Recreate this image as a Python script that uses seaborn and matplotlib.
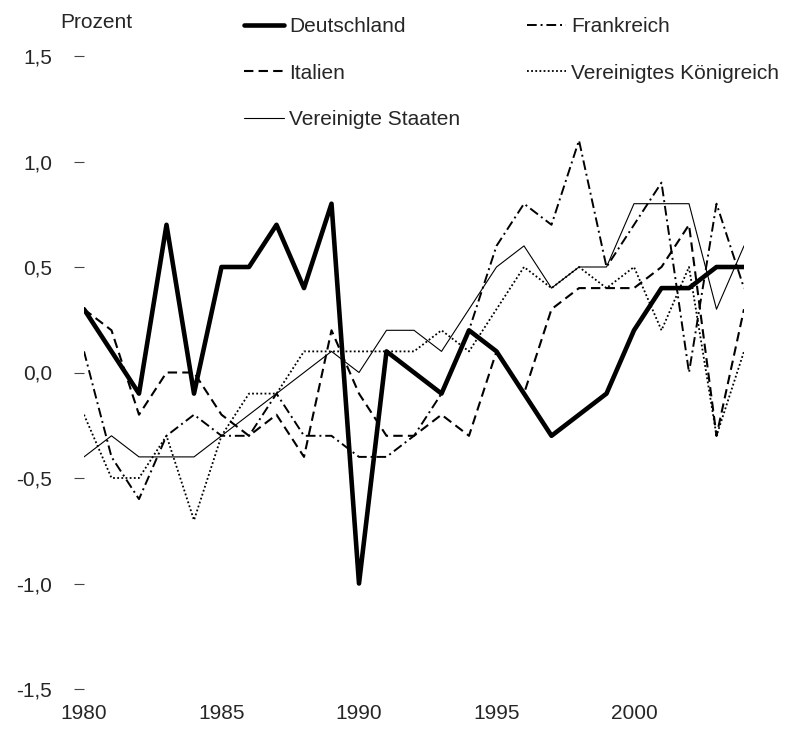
import matplotlib
matplotlib.use("Agg")
import matplotlib.pyplot as plt
import seaborn as sns
import pandas as pd

# ==========================================
# DATEN

jahre = list(range(1980, 2005))

deutschland = [0.3, 0.1, -0.1, 0.7, -0.1, 0.5, 0.5, 0.7, 0.4, 0.8,
               -1.0, 0.1, 0.0, -0.1, 0.2, 0.1, -0.1, -0.3, -0.2, -0.1,
               0.2, 0.4, 0.4, 0.5, 0.5]
frankreich = [0.1, -0.4, -0.6, -0.3, -0.2, -0.3, -0.3, -0.1, -0.3, -0.3,
              -0.4, -0.4, -0.3, -0.1, 0.2, 0.6, 0.8, 0.7, 1.1, 0.5,
              0.7, 0.9, 0.0, 0.8, 0.4]
italien = [0.3, 0.2, -0.2, 0.0, 0.0, -0.2, -0.3, -0.2, -0.4, 0.2,
           -0.1, -0.3, -0.3, -0.2, -0.3, 0.1, -0.1, 0.3, 0.4, 0.4,
           0.4, 0.5, 0.7, -0.3, 0.3]
vereinigtes_koenigreich = [-0.2, -0.5, -0.5, -0.3, -0.7, -0.3, -0.1, -0.1, 0.1, 0.1,
                           0.1, 0.1, 0.1, 0.2, 0.1, 0.3, 0.5, 0.4, 0.5, 0.4,
                           0.5, 0.2, 0.5, -0.3, 0.1]
vereinigte_staaten = [-0.4, -0.3, -0.4, -0.4, -0.4, -0.3, -0.2, -0.1, 0.0, 0.1,
                      0.0, 0.2, 0.2, 0.1, 0.3, 0.5, 0.6, 0.4, 0.5, 0.5,
                      0.8, 0.8, 0.8, 0.3, 0.6]

y_ticks = [-1.5, -1.0, -0.5, 0.0, 0.5, 1.0, 1.5]
y_labels = ["-1,5", "-1,0", "-0,5", "0,0", "0,5", "1,0", "1,5"]
x_ticks = [1980, 1985, 1990, 1995, 2000]

df = pd.DataFrame({
    "Jahr": jahre,
    "Deutschland": deutschland,
    "Frankreich": frankreich,
    "Italien": italien,
    "Vereinigtes Königreich": vereinigtes_koenigreich,
    "Vereinigte Staaten": vereinigte_staaten,
})

# Linienstile je Land (Reihenfolge = Legende, spaltenweise)
stile = {
    "Deutschland": dict(lw=3.3, dashes=None),
    "Italien": dict(lw=1.5, dashes=(4.5, 2.5)),
    "Vereinigte Staaten": dict(lw=0.8, dashes=None),
    "Frankreich": dict(lw=1.4, dashes=(5, 2, 1, 2)),
    "Vereinigtes Königreich": dict(lw=1.3, dashes=(1, 1.3)),
}

# ==========================================
# CHART

sns.set_style("white")
plt.rcParams["font.family"] = ["Liberation Sans", "DejaVu Sans"]

fig = plt.figure(figsize=(8.02, 7.31), dpi=100)
ax = fig.add_axes([84 / 802, 1 - 689 / 731, 660 / 802, 633 / 731])

for land, st in stile.items():
    line = sns.lineplot(
        data=df,
        x="Jahr",
        y=land,
        ax=ax,
        color="black",
        lw=st["lw"],
        label=land,
    ).lines[-1]
    if st["dashes"] is not None:
        line.set_dashes(st["dashes"])
        line.set_dash_capstyle("butt")

ax.set_xlim(1980, 2004)
ax.set_ylim(-1.5, 1.5)
ax.set_xticks(x_ticks)
ax.set_yticks(y_ticks)
ax.set_yticklabels(y_labels)
ax.set_xlabel("")
ax.set_ylabel("")

for s in ax.spines.values():
    s.set_visible(False)

ax.tick_params(axis="y", left=True, length=7, width=0.8, color="#444444",
               pad=16, labelsize=15)
ax.tick_params(axis="x", bottom=False, length=0, pad=11, labelsize=15)

fig.text(60 / 802, 1 - 22 / 731, "Prozent", fontsize=15, va="center", ha="left")

handles, labels = ax.get_legend_handles_labels()
leg = ax.legend(
    handles, labels,
    ncol=2,
    loc="upper left",
    bbox_to_anchor=(244 / 802, 1 - 17 / 731),
    bbox_transform=fig.transFigure,
    frameon=False,
    fontsize=15,
    handlelength=1.9,
    handletextpad=0.25,
    columnspacing=3.2,
    labelspacing=1.33,
    borderaxespad=0,
    borderpad=0,
)

plt.savefig("out.png", dpi=100)
